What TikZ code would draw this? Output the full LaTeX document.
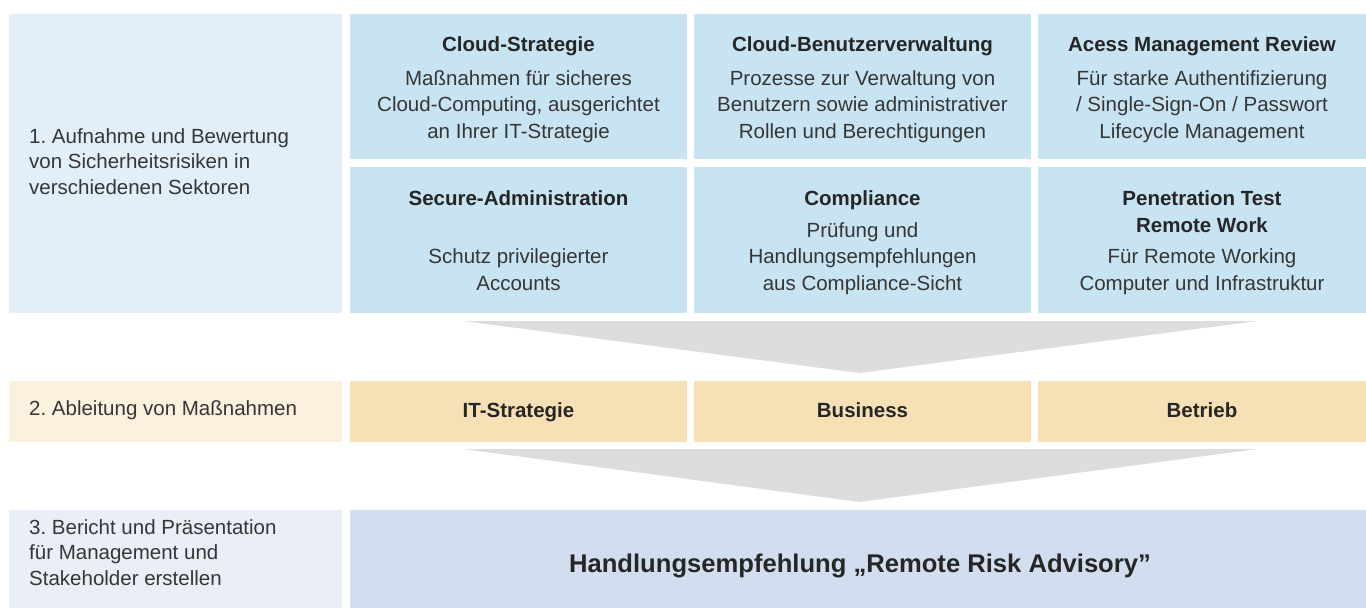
\documentclass[tikz,border=0pt]{standalone}
\usepackage{fontspec}
\setmainfont{Liberation Sans}
\frenchspacing
\definecolor{pA}{HTML}{E2EFF8}
\definecolor{cA}{HTML}{C8E3F2}
\definecolor{pB}{HTML}{FCF0DF}
\definecolor{cB}{HTML}{F8E0B6}
\definecolor{pC}{HTML}{E9EEF7}
\definecolor{cC}{HTML}{D2DEEF}
\definecolor{chev}{HTML}{DCDDDF}
\definecolor{txt}{HTML}{363636}
\definecolor{ttl}{HTML}{262626}
\newcommand{\fsreg}{\fontsize{20.5}{25.5}\selectfont}
\newcommand{\fsbig}{\fontsize{25.6}{30}\selectfont}
\begin{document}
\begin{tikzpicture}[x=1pt,y=-1pt,
  box/.style={rectangle, draw=none, inner sep=0pt, outer sep=0pt, anchor=north west},
  ltxt/.style={anchor=base west, inner sep=0pt, font=\fsreg, text=txt},
  body/.style={anchor=base, inner sep=0pt, font=\fsreg, text=txt},
  ttlb/.style={anchor=base, inner sep=0pt, font=\fsreg\bfseries, text=ttl},
  bigt/.style={anchor=base, inner sep=0pt, font=\fsbig\bfseries, text=ttl},
  chevron/.style={fill=chev}]
\useasboundingbox (0,0) rectangle (1366,608);
\fill[white] (0,0) rectangle (1366,608);

% ---- row 1 ----
\node[box, fill=pA, minimum width=333pt, minimum height=299pt] (p1) at (9,14) {};
\node[box, fill=cA, minimum width=337pt, minimum height=145pt] (c11) at (350,14) {};
\node[box, fill=cA, minimum width=337pt, minimum height=145pt] (c12) at (694,14) {};
\node[box, fill=cA, minimum width=328pt, minimum height=145pt] (c13) at (1038,14) {};
\node[box, fill=cA, minimum width=337pt, minimum height=146pt] (c21) at (350,167) {};
\node[box, fill=cA, minimum width=337pt, minimum height=146pt] (c22) at (694,167) {};
\node[box, fill=cA, minimum width=328pt, minimum height=146pt] (c23) at (1038,167) {};

\node[ltxt] (l1a) at (29,143) {1. Aufnahme und Bewertung};
\node[ltxt] (l1b) at (29,168.5) {von Sicherheitsrisiken in};
\node[ltxt] (l1c) at (29,194) {verschiedenen Sektoren};

\node[ttlb] (t11) at (518.5,51.5) {Cloud-Strategie};
\node[body] (b11a) at (518.5,85) {Maßnahmen für sicheres};
\node[body] (b11b) at (518.5,111.5) {Cloud-Computing, ausgerichtet};
\node[body] (b11c) at (518.5,138) {an Ihrer IT-Strategie};

\node[ttlb] (t12) at (862.5,51.5) {Cloud-Benutzerverwaltung};
\node[body] (b12a) at (862.5,85) {Prozesse zur Verwaltung von};
\node[body] (b12b) at (862.5,111.5) {Benutzern sowie administrativer};
\node[body] (b12c) at (862.5,138) {Rollen und Berechtigungen};

\node[ttlb] (t13) at (1202,51.5) {Acess Management Review};
\node[body] (b13a) at (1202,85) {Für starke Authentifizierung};
\node[body] (b13b) at (1202,111.5) {/ Single-Sign-On / Passwort};
\node[body] (b13c) at (1202,138) {Lifecycle Management};

\node[ttlb] (t21) at (518.5,205) {Secure-Administration};
\node[body] (b21a) at (518.5,263.5) {Schutz privilegierter};
\node[body] (b21b) at (518.5,290) {Accounts};

\node[ttlb] (t22) at (862.5,205) {Compliance};
\node[body] (b22a) at (862.5,237) {Prüfung und};
\node[body] (b22b) at (862.5,263.5) {Handlungsempfehlungen};
\node[body] (b22c) at (862.5,290) {aus Compliance-Sicht};

\node[ttlb] (t23a) at (1202,205) {Penetration Test};
\node[ttlb] (t23b) at (1202,232) {Remote Work};
\node[body] (b23a) at (1202,263.5) {Für Remote Working};
\node[body] (b23b) at (1202,290) {Computer und Infrastruktur};

% ---- chevron 1 ----
\coordinate (ch1l) at (464,321);
\coordinate (ch1r) at (1257,321);
\coordinate (ch1t) at (859,373);
\fill[chevron] (ch1l) -- (ch1r) -- (ch1t) -- cycle;

% ---- row 2 ----
\node[box, fill=pB, minimum width=333pt, minimum height=61pt] (p2) at (9,381) {};
\node[box, fill=cB, minimum width=337pt, minimum height=61pt] (d1) at (350,381) {};
\node[box, fill=cB, minimum width=337pt, minimum height=61pt] (d2) at (694,381) {};
\node[box, fill=cB, minimum width=328pt, minimum height=61pt] (d3) at (1038,381) {};
\node[ltxt] (l2) at (29,415.5) {2. Ableitung von Maßnahmen};
\node[ttlb] (td1) at (518.5,417) {IT-Strategie};
\node[ttlb] (td2) at (862.5,417) {Business};
\node[ttlb] (td3) at (1202,417) {Betrieb};

% ---- chevron 2 ----
\coordinate (ch2l) at (464,449);
\coordinate (ch2r) at (1257,449);
\coordinate (ch2t) at (859,502);
\fill[chevron] (ch2l) -- (ch2r) -- (ch2t) -- cycle;

% ---- row 3 ----
\node[box, fill=pC, minimum width=333pt, minimum height=98pt] (p3) at (9,510) {};
\node[box, fill=cC, minimum width=1016pt, minimum height=98pt] (e1) at (350,510) {};
\node[ltxt] (l3a) at (29,534) {3. Bericht und Präsentation};
\node[ltxt] (l3b) at (29,559.5) {für Management und};
\node[ltxt] (l3c) at (29,585) {Stakeholder erstellen};
\node[bigt] (te1) at (860,572) {Handlungsempfehlung „Remote Risk Advisory”};
\end{tikzpicture}
\end{document}
